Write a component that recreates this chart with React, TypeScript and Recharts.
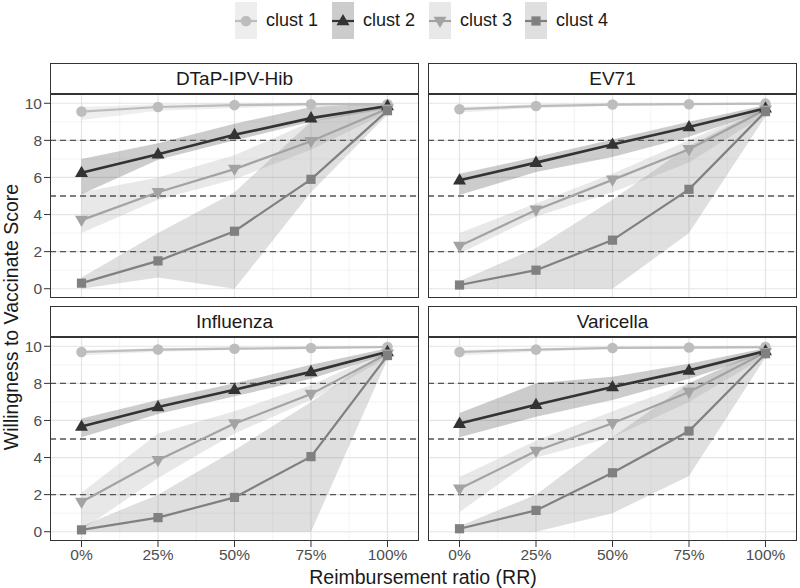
import React from "react"
import { ComposedChart, Area, Line, XAxis, YAxis, CartesianGrid, ReferenceLine } from "recharts"

const ratios = [0, 25, 50, 75, 100]
const clusters = ["clust 1", "clust 2", "clust 3", "clust 4"]
const vaccines = ["DTaP-IPV-Hib", "EV71", "Influenza", "Varicella"]
const yTicks = [0, 2, 4, 6, 8, 10]
const yMinor = [1, 3, 5, 7, 9]
const xMinor = [12.5, 37.5, 62.5, 87.5]
const cutoffs = [2, 5, 8]

// mean score and band per cluster (rows) at each reimbursement ratio (cols)
const dtapScore = [
  [9.55, 9.8, 9.9, 9.95, 9.95],
  [6.25, 7.25, 8.3, 9.2, 9.85],
  [3.7, 5.2, 6.45, 7.95, 9.7],
  [0.3, 1.5, 3.1, 5.9, 9.6],
]
const dtapLow = [
  [9.1, 9.6, 9.75, 9.85, 9.9],
  [5.1, 6.95, 8.0, 9.0, 9.7],
  [3.0, 4.8, 5.9, 7.5, 9.5],
  [0, 0.6, 0, 5.2, 9.4],
]
const dtapHigh = [
  [9.8, 9.95, 10, 10, 10],
  [7.0, 7.85, 8.9, 9.8, 10],
  [5.2, 6.0, 7.2, 9.0, 9.95],
  [0.6, 3.0, 5.2, 9.0, 9.9],
]

const ev71Score = [
  [9.68, 9.85, 9.93, 9.95, 9.98],
  [5.85, 6.8, 7.78, 8.72, 9.73],
  [2.3, 4.25, 5.87, 7.52, 9.65],
  [0.2, 1.0, 2.62, 5.36, 9.55],
]
const ev71Low = [
  [9.5, 9.75, 9.85, 9.9, 9.95],
  [5.05, 6.3, 7.1, 8.2, 9.6],
  [1.9, 3.9, 5.2, 6.8, 9.4],
  [0, 0, 0, 3.0, 9.3],
]
const ev71High = [
  [9.8, 9.95, 10, 10, 10],
  [6.2, 7.1, 8.05, 9.0, 9.9],
  [3.0, 4.6, 6.2, 8.0, 9.85],
  [0.4, 2.2, 4.8, 7.7, 9.8],
]

const fluScore = [
  [9.69, 9.82, 9.87, 9.91, 9.96],
  [5.68, 6.73, 7.66, 8.62, 9.7],
  [1.6, 3.85, 5.83, 7.42, 9.6],
  [0.1, 0.76, 1.85, 4.05, 9.5],
]
const fluLow = [
  [9.5, 9.7, 9.8, 9.85, 9.9],
  [5.1, 6.35, 7.3, 8.25, 9.55],
  [0.1, 2.9, 5.3, 7.1, 9.4],
  [0, 0, 0, 0, 9.3],
]
const fluHigh = [
  [9.8, 9.9, 9.95, 10, 10],
  [6.1, 7.1, 8.0, 9.0, 9.9],
  [2.1, 5.3, 6.5, 7.9, 9.8],
  [0.3, 2.0, 4.4, 7.0, 9.8],
]

const varScore = [
  [9.69, 9.82, 9.91, 9.93, 9.96],
  [5.83, 6.85, 7.8, 8.7, 9.75],
  [2.32, 4.35, 5.85, 7.54, 9.68],
  [0.16, 1.15, 3.18, 5.43, 9.6],
]
const varLow = [
  [9.5, 9.7, 9.85, 9.9, 9.9],
  [5.1, 6.2, 7.1, 8.25, 9.6],
  [1.06, 4.0, 5.1, 7.0, 9.45],
  [0, 0, 1.0, 3.0, 9.4],
]
const varHigh = [
  [9.8, 9.9, 9.95, 10, 10],
  [6.4, 8.0, 8.35, 9.06, 9.9],
  [2.95, 4.9, 6.5, 8.0, 9.85],
  [0.3, 2.0, 5.1, 8.0, 9.9],
]

const colors = ["#BDBDBD", "#333333", "#A3A3A3", "#808080"]
const shapes = ["circle", "up", "down", "square"]
const FONT = "'Liberation Sans', Arial, sans-serif"

const PLOT_W = 369
const PLOT_H = 204
const Y_AXIS_W = 50
const X_AXIS_H = 34

function buildRows(score: number[][], low: number[][], high: number[][]) {
  return ratios.map((r, i) => {
    const row: Record<string, any> = { ratio: r }
    clusters.forEach((_, k) => {
      row[`s${k}`] = score[k][i]
      row[`b${k}`] = [low[k][i], high[k][i]]
    })
    return row
  })
}

function Marker({ shape, cx, cy, color }: { shape: string; cx: number; cy: number; color: string }) {
  if (shape === "circle") return <circle cx={cx} cy={cy} r={5.3} fill={color} />
  if (shape === "up")
    return <polygon points={`${cx},${cy - 7} ${cx - 6.5},${cy + 4.3} ${cx + 6.5},${cy + 4.3}`} fill={color} />
  if (shape === "down")
    return <polygon points={`${cx},${cy + 7} ${cx - 6.5},${cy - 4.3} ${cx + 6.5},${cy - 4.3}`} fill={color} />
  return <rect x={cx - 4.6} y={cy - 4.6} width={9.2} height={9.2} fill={color} />
}

function Panel({
  title,
  rows,
  plotLeft,
  plotTop,
  showY,
  showX,
}: {
  title: string
  rows: Record<string, any>[]
  plotLeft: number
  plotTop: number
  showY: boolean
  showX: boolean
}) {
  const w = PLOT_W + (showY ? Y_AXIS_W : 0)
  const h = PLOT_H + (showX ? X_AXIS_H : 0)
  return (
    <>
      <div
        style={{
          position: "absolute",
          left: plotLeft,
          top: plotTop - 31,
          width: PLOT_W - 2,
          height: 29,
          border: "1px solid #333",
          background: "#fff",
          fontFamily: FONT,
          fontSize: 19,
          color: "#1A1A1A",
          display: "flex",
          alignItems: "center",
          justifyContent: "center",
        }}
      >
        {title}
      </div>
      <div style={{ position: "absolute", left: plotLeft - (showY ? Y_AXIS_W : 0), top: plotTop }}>
        <ComposedChart width={w} height={h} data={rows} margin={{ top: 0, right: 0, bottom: 0, left: 0 }}>
          <CartesianGrid horizontalValues={yMinor} verticalValues={xMinor} stroke="#F0F0F0" strokeWidth={0.8} />
          <CartesianGrid horizontalValues={yTicks} verticalValues={ratios} stroke="#E4E4E4" strokeWidth={1.2} />
          <XAxis
            dataKey="ratio"
            type="number"
            domain={[-10.3, 110.3]}
            ticks={ratios}
            tickFormatter={(v) => `${v}%`}
            hide={!showX}
            height={X_AXIS_H}
            axisLine={false}
            tickLine={{ stroke: "#333" }}
            tickSize={6}
            tickMargin={2}
            tick={{ fontSize: 15.5, fill: "#4D4D4D", fontFamily: FONT }}
            allowDataOverflow
          />
          <YAxis
            type="number"
            domain={[-0.5, 10.5]}
            ticks={yTicks}
            hide={!showY}
            width={Y_AXIS_W}
            axisLine={false}
            tickLine={{ stroke: "#333" }}
            tickSize={6}
            tickMargin={2}
            tick={{ fontSize: 15.5, fill: "#4D4D4D", fontFamily: FONT }}
            allowDataOverflow
          />
          {clusters.map((c, k) => (
            <Area
              key={`band-${c}`}
              dataKey={`b${k}`}
              type="linear"
              stroke="none"
              fill={colors[k]}
              fillOpacity={0.25}
              isAnimationActive={false}
            />
          ))}
          {cutoffs.map((v) => (
            <ReferenceLine key={`cut-${v}`} y={v} stroke="#555" strokeWidth={1.3} strokeDasharray="6 4" />
          ))}
          {clusters.map((c, k) => (
            <Line
              key={`line-${c}`}
              dataKey={`s${k}`}
              type="linear"
              stroke={colors[k]}
              strokeWidth={k === 1 ? 2.6 : 2.2}
              dot={false}
              isAnimationActive={false}
            />
          ))}
          {clusters.map((c, k) => (
            <Line
              key={`pts-${c}`}
              dataKey={`s${k}`}
              type="linear"
              stroke="none"
              isAnimationActive={false}
              dot={(p: any) => (
                <Marker key={`m-${k}-${p.index}`} shape={shapes[k]} cx={p.cx} cy={p.cy} color={colors[k]} />
              )}
            />
          ))}
        </ComposedChart>
      </div>
      <div
        style={{
          position: "absolute",
          left: plotLeft,
          top: plotTop,
          width: PLOT_W - 2,
          height: PLOT_H - 2,
          border: "1px solid #333",
          pointerEvents: "none",
        }}
      />
    </>
  )
}

function LegendKey({ k, left }: { k: number; left: number }) {
  return (
    <div style={{ position: "absolute", left, top: 2, display: "flex", alignItems: "center" }}>
      <svg width={22} height={37}>
        <rect x={0} y={0} width={22} height={37} fill={colors[k]} fillOpacity={0.25} />
        <line x1={0} y1={19} x2={22} y2={19} stroke={colors[k]} strokeWidth={2.2} />
        <Marker shape={shapes[k]} cx={11} cy={19} color={colors[k]} />
      </svg>
      <span style={{ marginLeft: 9, fontFamily: FONT, fontSize: 18, color: "#1A1A1A" }}>{clusters[k]}</span>
    </div>
  )
}

export default function App() {
  const panels = [
    { title: vaccines[0], rows: buildRows(dtapScore, dtapLow, dtapHigh), left: 50, top: 94, showY: true, showX: false },
    { title: vaccines[1], rows: buildRows(ev71Score, ev71Low, ev71High), left: 428, top: 94, showY: false, showX: false },
    { title: vaccines[2], rows: buildRows(fluScore, fluLow, fluHigh), left: 50, top: 337, showY: true, showX: true },
    { title: vaccines[3], rows: buildRows(varScore, varLow, varHigh), left: 428, top: 337, showY: false, showX: true },
  ]
  return (
    <div style={{ position: "absolute", left: 0, top: 0, width: 800, height: 588, background: "#fff", overflow: "hidden" }}>
      {[235, 332, 429, 525].map((x, k) => (
        <LegendKey key={clusters[k]} k={k} left={x} />
      ))}
      {panels.map((p) => (
        <Panel key={p.title} title={p.title} rows={p.rows} plotLeft={p.left} plotTop={p.top} showY={p.showY} showX={p.showX} />
      ))}
      <div
        style={{
          position: "absolute",
          left: 0,
          top: 566,
          width: 846,
          textAlign: "center",
          fontFamily: FONT,
          fontSize: 19.5,
          color: "#1A1A1A",
        }}
      >
        Reimbursement ratio (RR)
      </div>
      <div
        style={{
          position: "absolute",
          left: 11,
          top: 317,
          transform: "translate(-50%, -50%) rotate(-90deg)",
          whiteSpace: "nowrap",
          fontFamily: FONT,
          fontSize: 19.5,
          color: "#1A1A1A",
        }}
      >
        Willingness to Vaccinate Score
      </div>
    </div>
  )
}
